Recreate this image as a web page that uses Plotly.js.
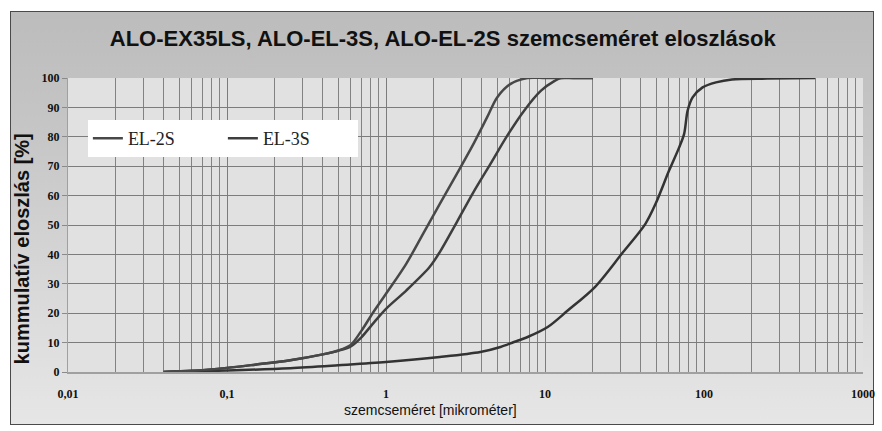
<!DOCTYPE html>
<html>
<head>
<meta charset="utf-8">
<script src="https://cdn.plot.ly/plotly-3.0.1.min.js"></script>
<style>
  html, body { margin: 0; padding: 0; background: #ffffff; }
  #wrap { position: relative; width: 882px; height: 431px; }
  #frame { position: absolute; left: 10px; top: 11px; width: 862px; height: 412px;
           border: 1px solid #4a4a4a;
           background: linear-gradient(to bottom, #bcbcbc 0%, #c6c6c6 30%, #dcdcdc 75%, #e6e6e6 100%); }
  #chart { position: absolute; left: 0; top: 0; width: 882px; height: 431px; }
</style>
</head>
<body>
<div id="wrap">
  <div id="frame"></div>
  <div id="chart"></div>
</div>
<script>
// Data (particle size in micrometres, cumulative %)
const el2sSize = [0.04, 0.06, 0.1, 0.15, 0.25, 0.4, 0.5, 0.6, 0.7, 0.82, 1.0, 1.34, 1.71, 2.18, 2.79, 3.55, 4.32, 5.0, 6.08, 7.77, 10, 15, 20];
const el2sCum  = [0, 0.4, 1.4, 2.5, 4, 6, 7.3, 9.2, 14, 19.8, 26.6, 36.8, 47, 57.2, 67.4, 77.6, 86.6, 93.4, 98, 100, 100, 100, 100];

const el3sSize = [0.04, 0.06, 0.1, 0.15, 0.25, 0.4, 0.5, 0.6, 0.7, 0.82, 1.0, 1.34, 1.88, 2.18, 2.79, 3.55, 4.54, 5.79, 7.39, 9.44, 11.5, 12.6, 15, 20];
const el3sCum  = [0, 0.4, 1.4, 2.5, 4, 6, 7.2, 8.7, 11.8, 16.2, 21.5, 27.7, 35.7, 40.8, 51, 61.2, 70.8, 80.4, 88.9, 95.7, 99, 100, 100, 100];

const ex35Size = [0.04, 0.1, 0.25, 0.5, 1.0, 2.18, 3.92, 5.25, 6.38, 7.77, 10.4, 13.9, 20.6, 30.4, 42.8, 49.6, 60.3, 69.8, 75, 78.9, 84.8, 98, 119, 150, 250, 500];
const ex35Cum  = [0, 0.5, 1.3, 2.3, 3.4, 5.1, 6.8, 8.5, 10.2, 11.9, 15.3, 20.9, 28.9, 40.2, 50.4, 57.2, 68.5, 76.4, 81, 88.9, 93.4, 96.8, 98.5, 99.5, 99.8, 100];

const xTickVals = [0.01, 0.1, 1, 10, 100, 1000];
const xTickText = ['0,01', '0,1', '1', '10', '100', '1000'];
const yTickVals = [0, 10, 20, 30, 40, 50, 60, 70, 80, 90, 100];

const titleText = 'ALO-EX35LS, ALO-EL-3S, ALO-EL-2S szemcseméret eloszlások';
const xTitle = 'szemcseméret [mikrométer]';
const yTitle = 'kummulatív eloszlás [%]';

const lineStyle = (c) => ({ color: c, width: 2.5, shape: 'spline', smoothing: 0.85 });

const traces = [
  { x: ex35Size, y: ex35Cum, name: 'EX35LS', mode: 'lines', showlegend: false, line: lineStyle('#333333') },
  { x: el3sSize, y: el3sCum, name: 'EL-3S', mode: 'lines', line: lineStyle('#3e3e3e') },
  { x: el2sSize, y: el2sCum, name: 'EL-2S', mode: 'lines', line: lineStyle('#484848') }
];

const tickFont = { family: 'Liberation Serif, serif', size: 12, color: '#111', weight: 'bold' };

const layout = {
  width: 882, height: 431,
  margin: { l: 68, r: 19, t: 78, b: 59 },
  paper_bgcolor: 'rgba(0,0,0,0)',
  plot_bgcolor: '#e1e1e1',
  showlegend: true,
  title: { text: titleText, x: 0.502, xanchor: 'center', y: 0.912, yanchor: 'middle',
           font: { family: 'Liberation Sans, Arial, sans-serif', size: 22, color: '#111', weight: 'bold' } },
  xaxis: {
    type: 'log', range: [-2, 3],
    tickmode: 'array', tickvals: xTickVals, ticktext: xTickText,
    tickfont: tickFont, ticks: '', ticklabelstandoff: 10,
    showgrid: true, gridcolor: '#7c7c7c', gridwidth: 1,
    minor: { dtick: 'D1', showgrid: true, gridcolor: '#828282', gridwidth: 1, ticks: '' },
    showline: true, linecolor: '#a0a0a0', linewidth: 2, mirror: false,
    zeroline: false, fixedrange: true
  },
  yaxis: {
    range: [0, 100], tickmode: 'array', tickvals: yTickVals,
    tickfont: tickFont, ticks: 'outside', ticklen: 5, tickcolor: '#8a8a8a',
    showgrid: true, gridcolor: '#7c7c7c', gridwidth: 1,
    showline: true, linecolor: '#a0a0a0', linewidth: 1,
    zeroline: false, fixedrange: true
  },
  legend: {
    orientation: 'h', x: 0.025, xanchor: 'left', y: 0.857, yanchor: 'top',
    bgcolor: '#ffffff', borderwidth: 0,
    font: { family: 'Liberation Serif, Times New Roman, serif', size: 18, color: '#222' },
    entrywidth: 90, entrywidthmode: 'pixels', traceorder: 'reversed',
    itemwidth: 30
  },
  annotations: [
    { text: yTitle, xref: 'paper', yref: 'paper', x: -0.058, y: 0.42, xanchor: 'center', yanchor: 'middle',
      textangle: -90, showarrow: false,
      font: { family: 'Liberation Sans, Arial, sans-serif', size: 20, color: '#111', weight: 'bold' } },
    { text: xTitle, xref: 'paper', yref: 'paper', x: 0.456, y: -0.13, xanchor: 'center', yanchor: 'middle',
      showarrow: false,
      font: { family: 'Liberation Sans, Arial, sans-serif', size: 14, color: '#111' } }
  ]
};

Plotly.newPlot('chart', traces, layout, { displayModeBar: false, staticPlot: true });
</script>
</body>
</html>
